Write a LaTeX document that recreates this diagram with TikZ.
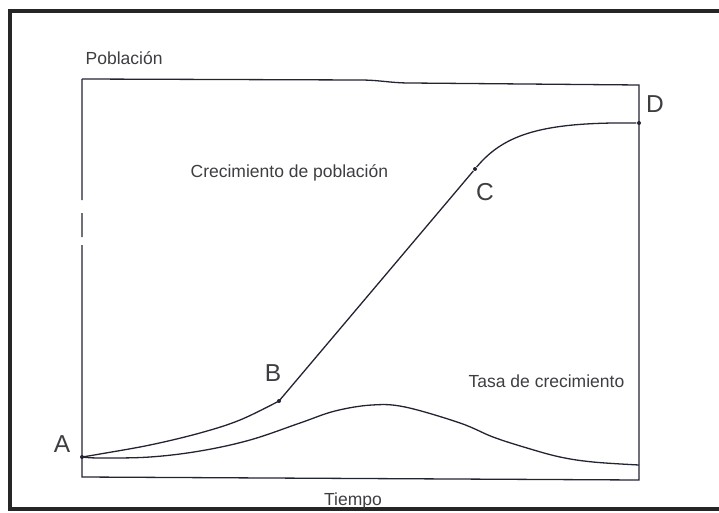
\documentclass[tikz,border=0pt]{standalone}
\usepackage{fontspec}
\setmainfont{Liberation Sans}
\definecolor{ink}{RGB}{34,36,50}
\definecolor{txt}{RGB}{62,62,66}
\tikzset{
  dot/.style={circle,fill=ink,inner sep=0pt,minimum size=4pt},
  lbl/.style={inner sep=0pt,text=txt,font=\fontsize{17.5}{20}\selectfont},
  pt/.style={inner sep=0pt,text=txt,font=\fontsize{24.5}{28}\selectfont,anchor=base}
}
\begin{document}
\begin{tikzpicture}[x=1pt,y=-1pt,line width=1.3pt,draw=ink]
\useasboundingbox (0,0) rectangle (719,513);
\draw[line width=3.5pt,black!85] (719,11) -- (10,11) -- (10,509) -- (719,509);
\coordinate (tl) at (82,79);
\coordinate (tr) at (639,85);
\coordinate (bl) at (82,477);
\coordinate (br) at (639,480);
\coordinate (E) at (639,465);
\node[dot] (A) at (82,457) {};
\node[dot] (B) at (279,401) {};
\node[dot] (C) at (475,169) {};
\node[dot] (D) at (639,123) {};
\node[lbl,anchor=base west] (poblacion) at (85,65) {Población};
\node[lbl,anchor=base west] (crec) at (190,177) {Crecimiento de población};
\node[lbl,anchor=base west] (tasa) at (468,387) {Tasa de crecimiento};
\node[lbl,anchor=base] (tiempo) at (353,505) {Tiempo};
\node[pt] (lA) at (62,452) {A};
\node[pt] (lB) at (273,381) {B};
\node[pt] (lC) at (485,200) {C};
\node[pt] (lD) at (655,113) {D};
\draw (tl) -- (360,80) to[out=0,in=180] (410,83) -- (tr) -- (br) -- (bl) -- (82,245)
      (82,237) -- (82,213)
      (82,200) -- (tl);
\draw plot[smooth,tension=0.6] coordinates {(A) (100,454) (150,445) (200,433) (240,420) (B)}
      -- (C) .. controls (505,133) and (545,122) .. (D);
\draw plot[smooth,tension=0.6] coordinates {(A) (100,458) (150,457) (200,451) (250,440) (300,423) (335,411) (372,405) (405,407) (460,423) (493,437) (527,448) (560,457) (593,462) (E)};
\end{tikzpicture}
\end{document}
